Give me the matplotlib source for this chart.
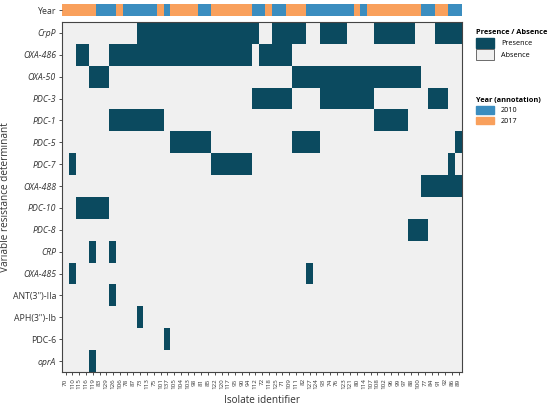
import numpy as np
import matplotlib
matplotlib.use("Agg")
import matplotlib.pyplot as plt
from matplotlib.colors import ListedColormap
from matplotlib.patches import Patch

isolates = ["70", "110", "115", "116", "119", "83", "129", "126", "106", "78",
            "87", "73", "113", "75", "101", "137", "105", "104", "103", "98",
            "81", "85", "122", "120", "117", "95", "90", "94", "112", "72",
            "118", "125", "71", "109", "111", "82", "127", "124", "93", "74",
            "76", "123", "121", "80", "114", "107", "108", "102", "96", "99",
            "97", "88", "100", "77", "84", "91", "92", "86", "89"]

years = [2017, 2017, 2017, 2017, 2017, 2010, 2010, 2010, 2017, 2010,
         2010, 2010, 2010, 2010, 2017, 2010, 2017, 2017, 2017, 2017,
         2010, 2010, 2017, 2017, 2017, 2017, 2017, 2017, 2010, 2010,
         2017, 2010, 2010, 2017, 2017, 2017, 2010, 2010, 2010, 2010,
         2010, 2010, 2010, 2017, 2010, 2017, 2017, 2017, 2017, 2017,
         2017, 2017, 2017, 2010, 2010, 2017, 2017, 2010, 2010]

genes = ["CrpP", "OXA-486", "OXA-50", "PDC-3", "PDC-1", "PDC-5", "PDC-7",
         "OXA-488", "PDC-10", "PDC-8", "CRP", "OXA-485", "ANT(3'')-IIa",
         "APH(3'')-Ib", "PDC-6", "oprA"]
italic_genes = [True, True, True, True, True, True, True, True, True, True,
                True, True, False, False, False, True]

# presence (1) / absence (0) per gene, one character per isolate in the order above
presence_rows = [
    "00000000000111111111111111111001111100111100001111110001111",  # CrpP
    "00110001111111111111111111110111110000000000000000000000000",  # OXA-486
    "00001110000000000000000000000000001111111111111111111000000",  # OXA-50
    "00000000000000000000000000001111110000111111110000000011100",  # PDC-3
    "00000001111111100000000000000000000000000000001111100000000",  # PDC-1
    "00000000000000001111110000000000001111000000000000000000001",  # PDC-5
    "01000000000000000000001111110000000000000000000000000000010",  # PDC-7
    "00000000000000000000000000000000000000000000000000000111111",  # OXA-488
    "00111110000000000000000000000000000000000000000000000000000",  # PDC-10
    "00000000000000000000000000000000000000000000000000011100000",  # PDC-8
    "00001001000000000000000000000000000000000000000000000000000",  # CRP
    "01000000000000000000000000000000000010000000000000000000000",  # OXA-485
    "00000001000000000000000000000000000000000000000000000000000",  # ANT(3'')-IIa
    "00000000000100000000000000000000000000000000000000000000000",  # APH(3'')-Ib
    "00000000000000010000000000000000000000000000000000000000000",  # PDC-6
    "00001000000000000000000000000000000000000000000000000000000",  # oprA
]

presence = np.array([[int(c) for c in row] for row in presence_rows])
year_codes = np.array([[0 if y == 2010 else 1 for y in years]])

c_present = "#0b4a5f"
c_absent = "#f0f0f0"
c_2010 = "#3b8dbf"
c_2017 = "#f9a05c"
c_text = "#333333"

plt.rcParams['font.family'] = ['Open Sans', 'DejaVu Sans']

fig = plt.figure(figsize=(5.5, 4.12), dpi=100)
ax = fig.add_axes([0.1133, 0.097, 0.7267, 0.8495])
axy = fig.add_axes([0.1133, 0.961, 0.7267, 0.029])

ax.imshow(presence, cmap=ListedColormap([c_absent, c_present]), aspect='auto',
          interpolation='nearest', vmin=0, vmax=1)
axy.imshow(year_codes, cmap=ListedColormap([c_2010, c_2017]), aspect='auto',
           interpolation='nearest', vmin=0, vmax=1)

ax.set_xticks(np.arange(len(isolates)))
ax.set_xticklabels(isolates, rotation=90, fontsize=4.5, color=c_text)
ax.set_yticks(np.arange(len(genes)))
ax.set_yticklabels(genes, fontsize=6.3, color=c_text)
for lab, it in zip(ax.get_yticklabels(), italic_genes):
    lab.set_fontstyle('italic' if it else 'normal')
ax.tick_params(axis='both', length=2.5, width=0.6, color=c_text, pad=2)
for s in ax.spines.values():
    s.set_color("#444444")
    s.set_linewidth(0.8)
ax.set_xlabel("Isolate identifier", fontsize=7.2, color=c_text, labelpad=4)
ax.set_ylabel("Variable resistance determinant", fontsize=7.2, color=c_text)
ax.yaxis.set_label_coords(-0.128, 0.5)

axy.set_xticks([])
axy.set_yticks([0])
axy.set_yticklabels(["Year"], fontsize=6.3, color=c_text)
axy.tick_params(axis='y', length=2.5, width=0.6, color=c_text, pad=2)
for s in axy.spines.values():
    s.set_visible(False)

h1 = [Patch(facecolor=c_present, edgecolor=c_present, label="Presence"),
      Patch(facecolor=c_absent, edgecolor="#555555", linewidth=0.6, label="Absence")]
leg1 = fig.legend(handles=h1, title="Presence / Absence", loc="upper left",
                  bbox_to_anchor=(0.862, 0.932), frameon=False, fontsize=5.2,
                  title_fontproperties={'weight': 'bold', 'size': 5.3},
                  handlelength=2.6, handleheight=1.9, handletextpad=0.9,
                  labelspacing=0.15, borderpad=0.1, borderaxespad=0.1)
leg1._legend_box.align = "left"
h2 = [Patch(facecolor=c_2010, edgecolor=c_2010, label="2010"),
      Patch(facecolor=c_2017, edgecolor=c_2017, label="2017")]
leg2 = fig.legend(handles=h2, title="Year (annotation)", loc="upper left",
                  bbox_to_anchor=(0.862, 0.768), frameon=False, fontsize=5.2,
                  title_fontproperties={'weight': 'bold', 'size': 5.3},
                  handlelength=2.6, handleheight=1.2, handletextpad=0.9,
                  labelspacing=0.3, borderpad=0.1, borderaxespad=0.1)
leg2._legend_box.align = "left"

fig.savefig("out.png", dpi=100, facecolor="white")
